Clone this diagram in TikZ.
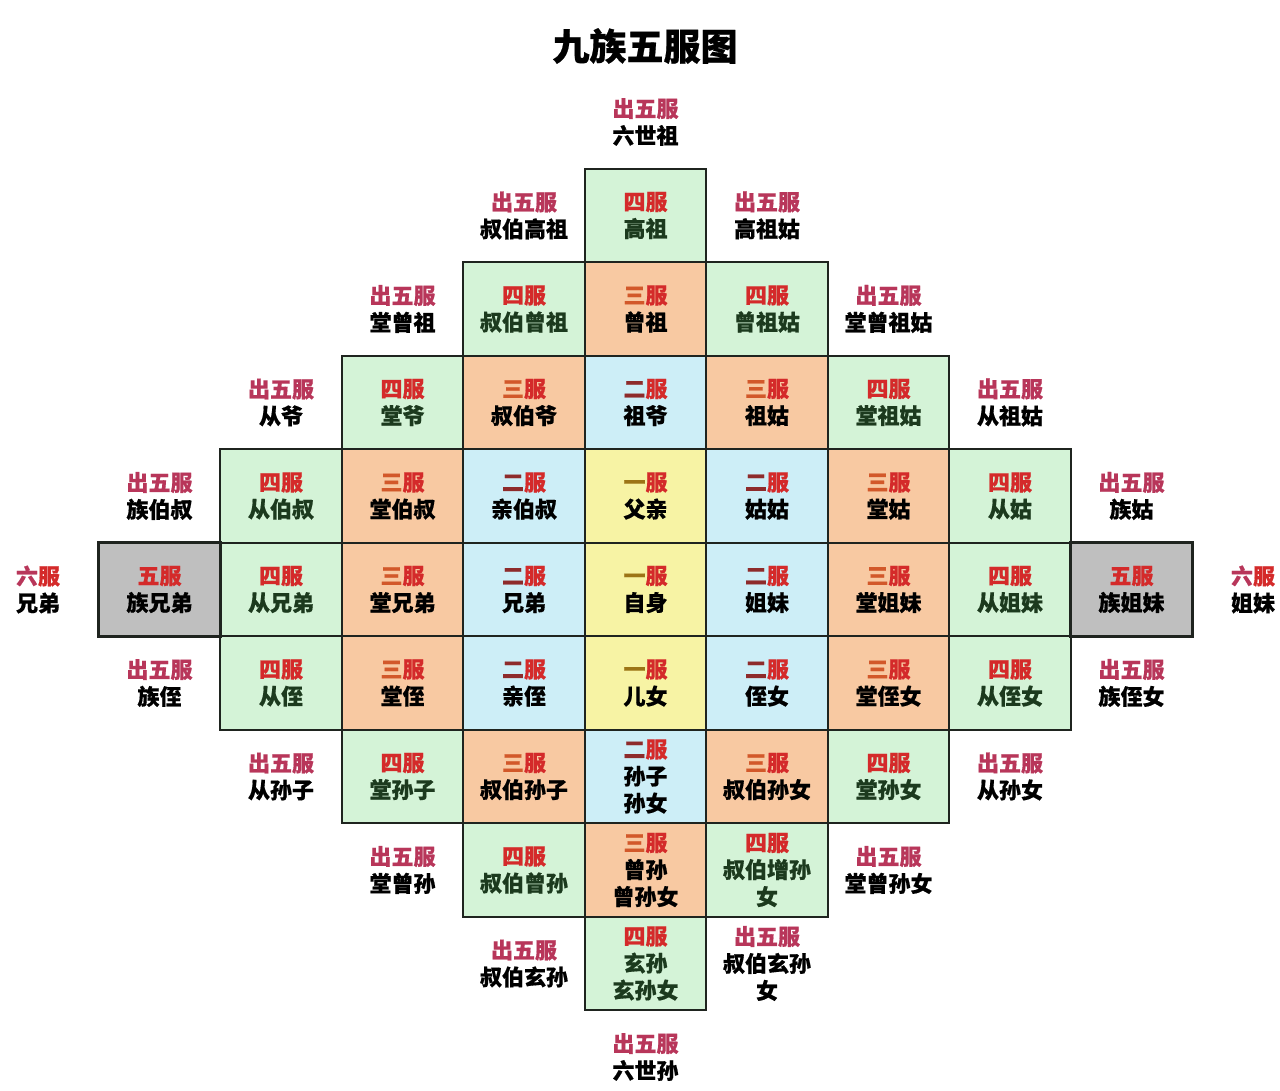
\documentclass[tikz,border=0pt]{standalone}
\usepackage{fontspec}
\newfontfamily\cjk{Noto Sans CJK SC}[BoldFeatures={FakeBold=0.6}]
\definecolor{cgreen}{HTML}{D4F3D7}
\definecolor{corange}{HTML}{F8C9A2}
\definecolor{cblue}{HTML}{CDEEF7}
\definecolor{cyellow}{HTML}{F7F3A4}
\definecolor{cgray}{HTML}{BFBFBF}
\definecolor{fured}{HTML}{D42A2A}
\definecolor{outred}{HTML}{B8365A}
\definecolor{yi}{HTML}{9C7416}
\definecolor{er}{HTML}{8E2B2B}
\definecolor{san}{HTML}{D2582A}
\definecolor{ngreen}{HTML}{1C3A1E}
\definecolor{gridline}{HTML}{1F241F}
\tikzset{
  cellbox/.style={draw=gridline, line width=2.4pt, minimum width=121.5pt, minimum height=93.5pt, inner sep=0pt, align=center,
    font=\cjk\bfseries\fontsize{22}{27}\selectfont},
  gcell/.style={cellbox, fill=cgreen, text=ngreen},
  ocell/.style={cellbox, fill=corange, text=black},
  bcell/.style={cellbox, fill=cblue, text=black},
  ycell/.style={cellbox, fill=cyellow, text=black},
  grcell/.style={cellbox, fill=cgray, text=black, line width=2.8pt},
  outbox/.style={inner sep=0pt, align=center, text=black, font=\cjk\bfseries\fontsize{22}{27}\selectfont},
  titlebox/.style={inner sep=0pt, font=\cjk\bfseries\fontsize{37}{40}\selectfont}
}
\newcommand\Cell[6]{\node[#3] (n#1-#2) at ({38+121.5*#2},{122+93.5*#1}) {\textcolor{#4}{#5}\textcolor{fured}{服}\\#6};}
\newcommand\Out[3]{\node[outbox] (n#1-#2) at ({38+121.5*#2},{122+93.5*#1}) {\textcolor{outred}{出五服}\\#3};}
\begin{document}
\begin{tikzpicture}[x=1pt,y=-1pt]
\useasboundingbox[fill=white] (0,0) rectangle (1280,1090);
\node[titlebox] (title) at (645,46) {九族五服图};
% row 0
\Out{0}{5}{六世祖}
% row 1
\Out{1}{4}{叔伯高祖}
\Cell{1}{5}{gcell}{fured}{四}{高祖}
\Out{1}{6}{高祖姑}
% row 2
\Out{2}{3}{堂曾祖}
\Cell{2}{4}{gcell}{fured}{四}{叔伯曾祖}
\Cell{2}{5}{ocell}{san}{三}{曾祖}
\Cell{2}{6}{gcell}{fured}{四}{曾祖姑}
\Out{2}{7}{堂曾祖姑}
% row 3
\Out{3}{2}{从爷}
\Cell{3}{3}{gcell}{fured}{四}{堂爷}
\Cell{3}{4}{ocell}{san}{三}{叔伯爷}
\Cell{3}{5}{bcell}{er}{二}{祖爷}
\Cell{3}{6}{ocell}{san}{三}{祖姑}
\Cell{3}{7}{gcell}{fured}{四}{堂祖姑}
\Out{3}{8}{从祖姑}
% row 4
\Out{4}{1}{族伯叔}
\Cell{4}{2}{gcell}{fured}{四}{从伯叔}
\Cell{4}{3}{ocell}{san}{三}{堂伯叔}
\Cell{4}{4}{bcell}{er}{二}{亲伯叔}
\Cell{4}{5}{ycell}{yi}{一}{父亲}
\Cell{4}{6}{bcell}{er}{二}{姑姑}
\Cell{4}{7}{ocell}{san}{三}{堂姑}
\Cell{4}{8}{gcell}{fured}{四}{从姑}
\Out{4}{9}{族姑}
% row 5
\node[outbox] (n5-0) at ({38},{122+93.5*5}) {\textcolor{outred}{六}\textcolor{fured}{服}\\兄弟};
\Cell{5}{2}{gcell}{fured}{四}{从兄弟}
\Cell{5}{3}{ocell}{san}{三}{堂兄弟}
\Cell{5}{4}{bcell}{er}{二}{兄弟}
\Cell{5}{5}{ycell}{yi}{一}{自身}
\Cell{5}{6}{bcell}{er}{二}{姐妹}
\Cell{5}{7}{ocell}{san}{三}{堂姐妹}
\Cell{5}{8}{gcell}{fured}{四}{从姐妹}
\node[outbox] (n5-10) at ({38+121.5*10},{122+93.5*5}) {\textcolor{outred}{六}\textcolor{fured}{服}\\姐妹};
% row 6
\Out{6}{1}{族侄}
\Cell{6}{2}{gcell}{fured}{四}{从侄}
\Cell{6}{3}{ocell}{san}{三}{堂侄}
\Cell{6}{4}{bcell}{er}{二}{亲侄}
\Cell{6}{5}{ycell}{yi}{一}{儿女}
\Cell{6}{6}{bcell}{er}{二}{侄女}
\Cell{6}{7}{ocell}{san}{三}{堂侄女}
\Cell{6}{8}{gcell}{fured}{四}{从侄女}
\Out{6}{9}{族侄女}
% row 7
\Out{7}{2}{从孙子}
\Cell{7}{3}{gcell}{fured}{四}{堂孙子}
\Cell{7}{4}{ocell}{san}{三}{叔伯孙子}
\Cell{7}{5}{bcell}{er}{二}{孙子\\孙女}
\Cell{7}{6}{ocell}{san}{三}{叔伯孙女}
\Cell{7}{7}{gcell}{fured}{四}{堂孙女}
\Out{7}{8}{从孙女}
% row 8
\Out{8}{3}{堂曾孙}
\Cell{8}{4}{gcell}{fured}{四}{叔伯曾孙}
\Cell{8}{5}{ocell}{san}{三}{曾孙\\曾孙女}
\Cell{8}{6}{gcell}{fured}{四}{叔伯增孙\\女}
\Out{8}{7}{堂曾孙女}
% row 9
\Out{9}{4}{叔伯玄孙}
\Cell{9}{5}{gcell}{fured}{四}{玄孙\\玄孙女}
\Out{9}{6}{叔伯玄孙\\女}
% row 10
\Out{10}{5}{六世孙}
% gray cells on top
\Cell{5}{1}{grcell}{fured}{五}{族兄弟}
\Cell{5}{9}{grcell}{fured}{五}{族姐妹}
\end{tikzpicture}
\end{document}
